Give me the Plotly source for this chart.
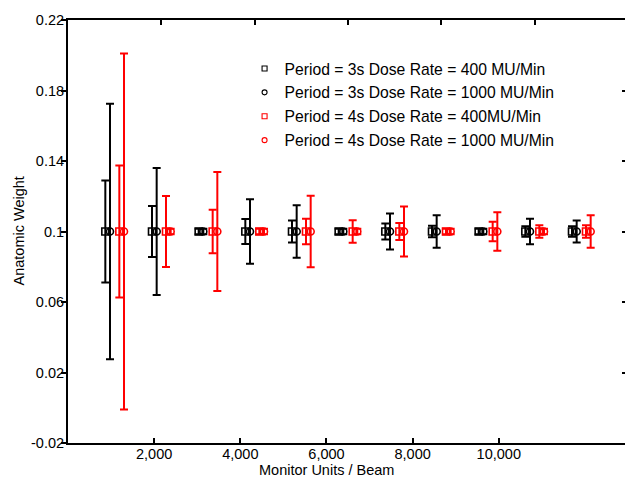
import plotly.graph_objects as go

# ---- data ----
groups = [1, 2, 3, 4, 5, 6, 7, 8, 9, 10, 11]
mean_3s_400 = [0.1, 0.1, 0.1, 0.1, 0.1, 0.1, 0.1, 0.1, 0.1, 0.1, 0.1]
mean_3s_1000 = [0.1, 0.1, 0.1, 0.1, 0.1, 0.1, 0.1, 0.1, 0.1, 0.1, 0.1]
mean_4s_400 = [0.1, 0.1, 0.1, 0.1, 0.1, 0.1, 0.1, 0.1, 0.1, 0.1, 0.1]
mean_4s_1000 = [0.1, 0.1, 0.1, 0.1, 0.1, 0.1, 0.1, 0.1, 0.1, 0.1, 0.1]
err_3s_400 = [0.029, 0.0145, 0.0015, 0.0071, 0.0062, 0.0015, 0.0045, 0.0033, 0.0015, 0.003, 0.003]
err_3s_1000 = [0.0725, 0.036, 0.0015, 0.0183, 0.0149, 0.0015, 0.0102, 0.0092, 0.0015, 0.0073, 0.0062]
err_4s_400 = [0.0375, 0.0202, 0.0123, 0.0015, 0.0073, 0.0064, 0.0048, 0.0015, 0.0055, 0.0035, 0.0035]
err_4s_1000 = [0.101, 0.0015, 0.0338, 0.0015, 0.0203, 0.0015, 0.0142, 0.0015, 0.0109, 0.0015, 0.0092]

series_names = [
    "Period = 3s Dose Rate = 400 MU/Min",
    "Period = 3s Dose Rate = 1000 MU/Min",
    "Period = 4s Dose Rate = 400MU/Min",
    "Period = 4s Dose Rate = 1000 MU/Min",
]
mu_ticks = [2000, 4000, 6000, 8000, 10000]
y_ticks = [-0.02, 0.02, 0.06, 0.1, 0.14, 0.18, 0.22]
y_tick_text = ["-0.02", "0.02", "0.06", "0.1", "0.14", "0.18", "0.22"]

# ---- styling ----
FONT = "Arial, Liberation Sans, sans-serif"
BLACK = "#000000"
RED = "#ff0000"
series = [
    (mean_3s_400, err_3s_400, -0.2, "square-open", BLACK),
    (mean_3s_1000, err_3s_1000, -0.1, "circle-open", BLACK),
    (mean_4s_400, err_4s_400, 0.1, "square-open", RED),
    (mean_4s_1000, err_4s_1000, 0.2, "circle-open", RED),
]

fig = go.Figure()

# invisible trace so the bottom (MU) axis is drawn
fig.add_trace(go.Scatter(x=[None], y=[None], xaxis="x", yaxis="y",
                         showlegend=False, hoverinfo="skip"))

for (ys, es, off, sym, col), name in zip(series, series_names):
    fig.add_trace(go.Scatter(
        x=[g + off for g in groups], y=ys, mode="markers",
        xaxis="x2", yaxis="y",
        marker=dict(symbol=sym, size=7, color=col, line=dict(width=1.6, color=col)),
        error_y=dict(type="data", array=es, visible=True, color=col,
                     thickness=2, width=4),
        showlegend=False, name=name,
    ))

# legend-only entries (small markers, no error bars)
for i, ((ys, es, off, sym, col), name) in enumerate(zip(series, series_names)):
    fig.add_trace(go.Scatter(
        x=[None], y=[None], mode="markers", xaxis="x2", yaxis="y",
        marker=dict(symbol=sym, size=5, color=col, line=dict(width=1.1, color=col)),
        name=name, legendgroup=f"g{i}", showlegend=True,
    ))

# right-side tick marks
fig.add_trace(go.Scatter(x=[None], y=[None], xaxis="x2", yaxis="y2",
                         showlegend=False, hoverinfo="skip"))

scale = (625 - 68) / (628 - 68)

fig.update_layout(
    width=625, height=478,
    margin=dict(l=68, r=0, t=20, b=35),
    paper_bgcolor="white", plot_bgcolor="white",
    font=dict(family=FONT, size=14, color=BLACK),
    xaxis=dict(
        range=[0, 13000 * scale], tickvals=mu_ticks, tickformat=",",
        ticks="inside", ticklen=5, tickwidth=2, tickcolor=BLACK,
        showline=True, linewidth=2, linecolor=BLACK, showgrid=False, zeroline=False,
        tickfont=dict(size=14.5), ticklabelstandoff=-3,
        automargin=False,
    ),
    xaxis2=dict(
        overlaying="x", side="top", anchor="y",
        range=[0, 12 * scale], tickvals=[2, 4, 6, 8, 10, 12],
        ticks="inside", ticklen=5, tickwidth=2, tickcolor=BLACK,
        showticklabels=False, showline=True, linewidth=2, linecolor=BLACK,
        showgrid=False, zeroline=False,
    ),
    yaxis=dict(
        range=[-0.02, 0.22], tickvals=y_ticks, ticktext=y_tick_text,
        ticks="outside", ticklen=5, tickwidth=2, tickcolor=BLACK,
        showline=True, linewidth=2, linecolor=BLACK, showgrid=False, zeroline=False,
        tickfont=dict(size=14.5), ticklabelstandoff=-6,
        automargin=False,
    ),
    yaxis2=dict(
        overlaying="y", side="right", anchor="x2", matches="y",
        tickvals=y_ticks, ticks="inside", ticklen=3, tickwidth=2, tickcolor=BLACK,
        showticklabels=False, showline=False, showgrid=False, zeroline=False,
    ),
    legend=dict(
        x=0.317, y=0.925, xanchor="left", yanchor="top",
        bgcolor="rgba(0,0,0,0)", font=dict(size=15.7, family=FONT),
        tracegroupgap=0.5, itemsizing="trace",
    ),
    annotations=[
        dict(text="Anatomic Weight", xref="paper", yref="paper",
             x=(18 - 68) / 557, y=0.5, xanchor="center", yanchor="middle",
             textangle=-90, showarrow=False, font=dict(size=14.5, family=FONT)),
        dict(text="Monitor Units / Beam", xref="paper", yref="paper",
             x=(326 - 68) / 557, y=-(470 - 443) / 423, xanchor="center",
             yanchor="middle", showarrow=False, font=dict(size=14.5, family=FONT)),
    ],
)

fig.write_html("out.html")
